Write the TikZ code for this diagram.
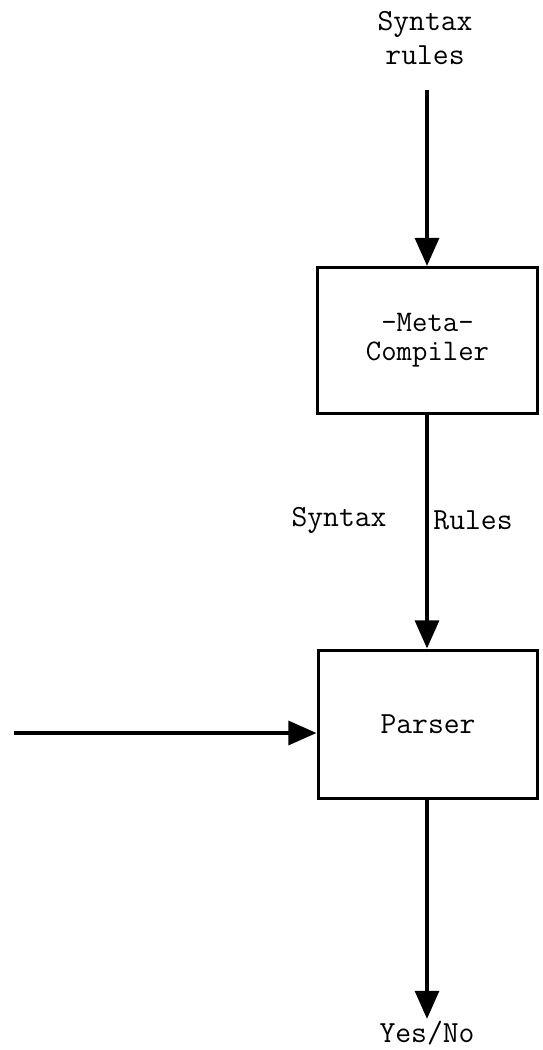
\documentclass[tikz,border=0pt]{standalone}
\usepackage{fontspec}
\usepackage{tikz}
\usetikzlibrary{arrows.meta, positioning}

\begin{document}
\begin{tikzpicture}[x=0.02cm, y=-0.02cm, >={Triangle[length=16pt, width=13.5pt]},
    block/.style={draw, line width=1.7pt, minimum width=4.4cm, minimum height=2.92cm},
    flow/.style={line width=2.3pt, ->},
    label/.style={font=\fontsize{17.5}{19}\selectfont\ttfamily, align=center, inner sep=1pt}]
  \useasboundingbox (0,0) rectangle (542,1050);

  % --- Blocks ---
  \node[block, label, font=\fontsize{17}{16.5}\selectfont\ttfamily] (meta) at (427.5,340.5) {-Meta-\\Compiler};
  \node[block, label, minimum height=2.98cm] (parser) at (428,724.5) {Parser};

  % --- Input of the meta-compiler ---
  \node[label] (rules) at (425,38) {Syntax\\rules};
  \coordinate (top) at (427,90);
  \draw[flow] (top) -- (top |- meta.north);

  % --- Syntax rules down to the parser ---
  \draw[flow] (meta.south -| top) -- (parser.north -| top);
  \node[label] (synL) at (339,520) {Syntax};
  \node[label] (synR) at (473,520) {Rules};

  % --- Text in, answer out ---
  \coordinate (in) at (14,733);
  \draw[flow] (in) -- (in -| parser.west);
  \node[label] (yesno) at (427,1033) {Yes/No};
  \draw[flow] (parser.south -| top) -- (yesno.north);
\end{tikzpicture}
\end{document}
